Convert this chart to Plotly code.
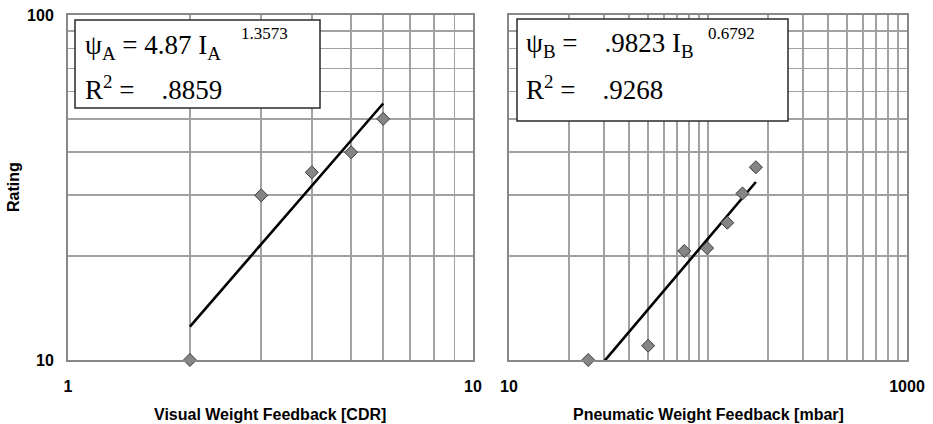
import plotly.graph_objects as go

W, H = 933, 424

# ---- data ----
visual_cdr = [2, 3, 4, 5, 6]
visual_rating = [10, 30, 35, 40, 50]
visual_fit_x = [2, 6]
visual_fit_y = [12.5, 55.4]

pneu_mbar = [25, 50, 76, 99, 125, 149, 174]
pneu_rating = [10, 11, 20.7, 21.1, 25, 30.4, 36.2]
pneu_fit_x = [25, 174]
pneu_fit_y = [8.74, 32.8]

left_x_ticks = [1, 10]
left_x_text = ["1", "10"]
left_x_grid = [2, 3, 4, 5, 6, 7, 8, 9]
right_x_ticks = [10, 1000]
right_x_text = ["10", "1000"]
right_x_grid = [20, 30, 40, 50, 60, 70, 80, 90, 100,
                200, 300, 400, 500, 600, 700, 800, 900]
y_ticks = [10, 100]
y_text = ["10", "100"]
y_grid = [20, 30, 40, 50, 60, 70, 80, 90]

eq_a_line1 = "ψ<sub>A</sub> = 4.87 I<sub>A</sub>"
eq_a_exp = "1.3573"
eq_a_line2 = "R<sup>2</sup> =    .8859"
eq_b_line1 = "ψ<sub>B</sub> =    .9823 I<sub>B</sub>"
eq_b_exp = "0.6792"
eq_b_line2 = "R<sup>2</sup> =    .9268"

x_title_a = "Visual Weight Feedback [CDR]"
x_title_b = "Pneumatic Weight Feedback [mbar]"
y_title = "Rating"


def px(x):
    return x / W


def py(y):
    return 1 - y / H


GRID = "#a2a2a2"
FRAME = "#888888"
SANS = "Liberation Sans"
SERIF = "Liberation Serif"

fig = go.Figure()

marker = dict(symbol="diamond", size=10, color="#858585",
              line=dict(color="#3a3a3a", width=1))

fig.add_trace(go.Scatter(x=visual_fit_x, y=visual_fit_y, mode="lines",
                         line=dict(color="black", width=2.6),
                         xaxis="x", yaxis="y", showlegend=False))
fig.add_trace(go.Scatter(x=visual_cdr, y=visual_rating, mode="markers",
                         marker=marker, cliponaxis=False,
                         xaxis="x", yaxis="y", showlegend=False))
fig.add_trace(go.Scatter(x=pneu_fit_x, y=pneu_fit_y, mode="lines",
                         line=dict(color="black", width=2.6),
                         xaxis="x2", yaxis="y2", showlegend=False))
fig.add_trace(go.Scatter(x=pneu_mbar, y=pneu_rating, mode="markers",
                         marker=marker, cliponaxis=False,
                         xaxis="x2", yaxis="y2", showlegend=False))

tickfont = dict(family=SANS, size=16, color="black", weight="bold")

common_axis = dict(type="log", showgrid=True, gridcolor=GRID, gridwidth=1.8,
                   showline=True, linecolor=FRAME, linewidth=2, mirror=True,
                   zeroline=False, tickfont=tickfont, ticks="outside",
                   tickcolor="rgba(0,0,0,0)", tickmode="array",
                   automargin=False)


def minor(vals):
    return dict(tickmode="array", tickvals=vals, showgrid=True,
                gridcolor=GRID, gridwidth=1.8, ticks="")


ydom = [py(360), py(15)]

fig.update_layout(
    width=W, height=H,
    margin=dict(l=0, r=0, t=0, b=0, autoexpand=False),
    paper_bgcolor="white", plot_bgcolor="white",
    showlegend=False,
    xaxis=dict(common_axis, domain=[px(68), px(473)], range=[0, 1],
               tickvals=left_x_ticks, ticktext=left_x_text, ticklen=11,
               minor=minor(left_x_grid), anchor="y"),
    yaxis=dict(common_axis, domain=ydom, range=[1, 2],
               tickvals=y_ticks, ticktext=y_text, ticklen=9,
               minor=minor(y_grid), anchor="x"),
    xaxis2=dict(common_axis, domain=[px(509), px(907)], range=[1, 3],
                tickvals=right_x_ticks, ticktext=right_x_text, ticklen=11,
                minor=minor(right_x_grid), anchor="y2"),
    yaxis2=dict(common_axis, domain=ydom, range=[1, 2],
                tickvals=y_ticks, showticklabels=False, ticklen=0,
                minor=minor(y_grid), anchor="x2"),
)

# equation boxes
for (x0, y0, x1, y1) in [(75, 20, 320, 108), (517, 19, 788, 121)]:
    fig.add_shape(type="rect", xref="paper", yref="paper",
                  x0=px(x0), x1=px(x1), y0=py(y1), y1=py(y0),
                  fillcolor="white", line=dict(color="#2a2a2a", width=1.5),
                  layer="above")

eqfont = dict(family=SERIF, size=27, color="black")
expfont = dict(family=SERIF, size=17, color="black")


def ann(text, x, y, font, xanchor="left", yanchor="middle", angle=0):
    fig.add_annotation(text=text, x=px(x), y=py(y), xref="paper", yref="paper",
                       xanchor=xanchor, yanchor=yanchor, showarrow=False,
                       font=font, textangle=angle, borderpad=0)


ann(eq_a_line1, 84, 47, eqfont)
ann(eq_a_exp, 240, 33, expfont)
ann(eq_a_line2, 84, 88, eqfont)
ann(eq_b_line1, 525, 45, eqfont)
ann(eq_b_exp, 707, 33, expfont)
ann(eq_b_line2, 525, 88, eqfont)

titlefont = dict(family=SANS, size=16, color="black", weight="bold")
ann(x_title_a, 270, 414, titlefont, xanchor="center")
ann(x_title_b, 708, 414, titlefont, xanchor="center")
ann(y_title, 13, 187, titlefont, xanchor="center", angle=-90)

fig.write_html("out.html",
               config={"displayModeBar": False, "staticPlot": True},
               post_script="document.body.style.margin='0';"
                           "document.body.style.overflow='hidden';")
